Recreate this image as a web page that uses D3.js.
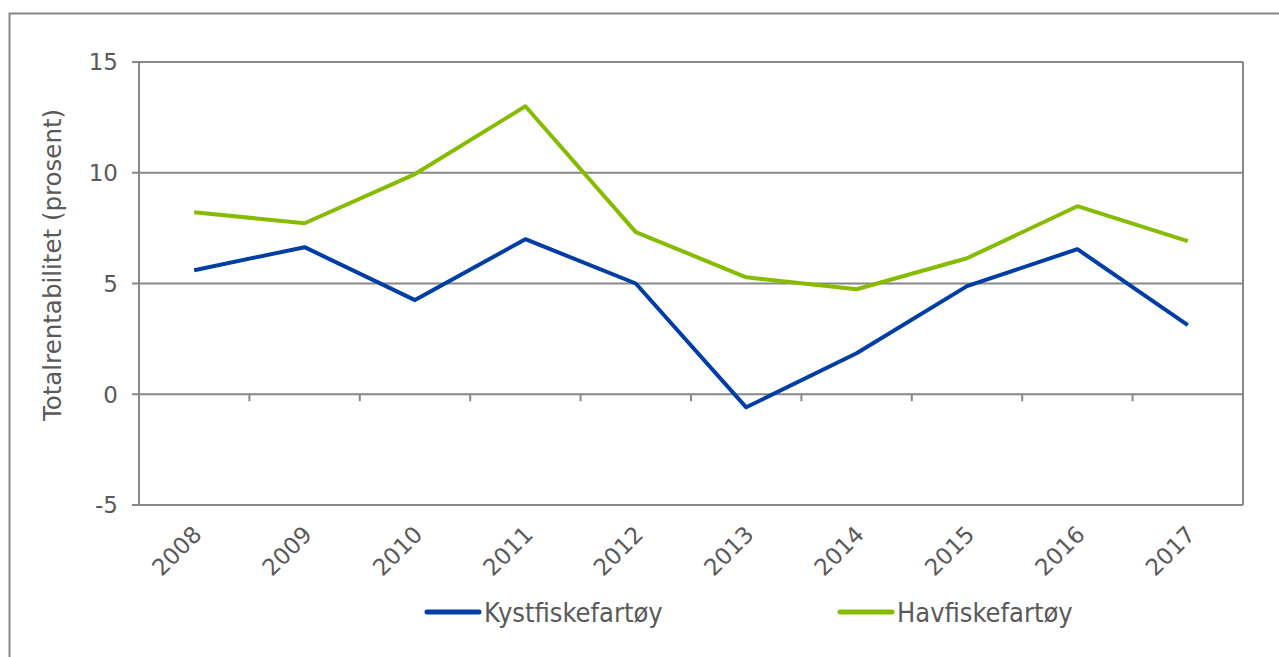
<!DOCTYPE html>
<html><head><meta charset="utf-8">
<script src="https://cdn.jsdelivr.net/npm/d3@7"></script>
<style>body{margin:0;background:#fff;}svg{display:block;}</style>
</head><body><svg id="c" width="1279" height="657"></svg>
<script>
const years = ["2008","2009","2010","2011","2012","2013","2014","2015","2016","2017"];
const kyst = [5.6, 6.64, 4.25, 7.0, 5.0, -0.59, 1.85, 4.88, 6.55, 3.12];
const hav = [8.22, 7.72, 9.94, 13.0, 7.32, 5.28, 4.74, 6.14, 8.49, 6.91];
const yTicks = [-5, 0, 5, 10, 15];
const seriesNames = ["Kystfiskefartøy", "Havfiskefartøy"];
const colors = ["#003DA5", "#86BC00"];

const svg = d3.select("#c");
const font = "DejaVu Sans, Verdana, sans-serif";
const grid = "#878787";
const txt = "#595959";

// outer frame
svg.append("path").attr("d","M9.5,700 V13.5 H1290").attr("fill","none").attr("stroke",grid).attr("stroke-width",2);

const L=139, R=1243, T=62, B=505;
const x = d3.scaleBand().domain(years).range([L,R]);
const y = d3.scaleLinear().domain([-5,15]).range([B,T]);

// gridlines
svg.append("g").selectAll("line").data(yTicks).join("line")
  .attr("x1",L-7).attr("x2",R).attr("y1",d=>y(d)).attr("y2",d=>y(d))
  .attr("stroke",grid).attr("stroke-width",2);
// left & right border
svg.append("line").attr("x1",L).attr("x2",L).attr("y1",T).attr("y2",B).attr("stroke",grid).attr("stroke-width",2);
svg.append("line").attr("x1",R).attr("x2",R).attr("y1",T).attr("y2",B).attr("stroke",grid).attr("stroke-width",2);

// x ticks at zero line
svg.append("g").selectAll("line").data(years.slice(1)).join("line")
  .attr("x1",d=>x(d)).attr("x2",d=>x(d)).attr("y1",y(0)).attr("y2",y(0)+7)
  .attr("stroke",grid).attr("stroke-width",2);

// y labels
svg.append("g").selectAll("text").data(yTicks).join("text")
  .attr("x",L-21).attr("y",d=>y(d)).attr("dy","0.36em").attr("text-anchor","end")
  .attr("font-family",font).attr("font-size",23).attr("fill",txt).text(d=>d);

// x labels
svg.append("g").selectAll("text").data(years).join("text")
  .attr("transform",d=>`translate(${x(d)+x.bandwidth()/2+3},${B+25}) rotate(-45)`)
  .attr("text-anchor","end").attr("dy","0.36em")
  .attr("font-family",font).attr("font-size",23).attr("fill",txt).text(d=>d);

// y title
svg.append("text").attr("transform",`translate(61,265) rotate(-90)`)
  .attr("text-anchor","middle").attr("font-family",font).attr("font-size",24.5).attr("fill",txt)
  .text("Totalrentabilitet (prosent)");

// lines
const line = d3.line().x((d,i)=>x(years[i])+x.bandwidth()/2).y(d=>y(d));
[kyst,hav].forEach((s,i)=>{
  svg.append("path").attr("d",line(s)).attr("fill","none").attr("stroke",colors[i])
    .attr("stroke-width",4).attr("stroke-linejoin","round");
});

// legend
const legX = [427, 840];
seriesNames.forEach((n,i)=>{
  svg.append("line").attr("x1",legX[i]).attr("x2",legX[i]+52).attr("y1",612).attr("y2",612)
    .attr("stroke",colors[i]).attr("stroke-width",5).attr("stroke-linecap","round");
  svg.append("text").attr("x",legX[i]+57).attr("y",612).attr("dy","0.36em")
    .attr("font-family","DejaVu Sans Condensed, sans-serif").attr("font-size",27).attr("fill",txt).text(n);
});
</script></body></html>
